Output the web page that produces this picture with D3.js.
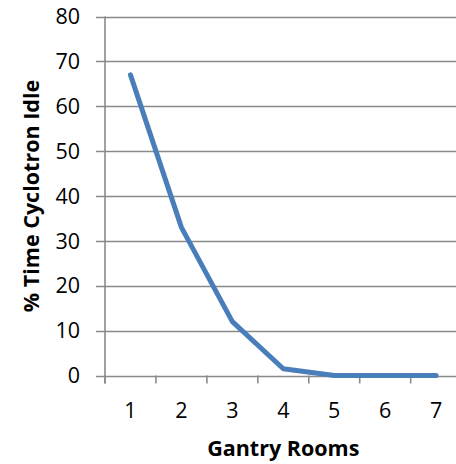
<!DOCTYPE html>
<html><head><meta charset="utf-8">
<script src="https://cdn.jsdelivr.net/npm/d3@7"></script>
<style>body{margin:0;background:#fff}svg{display:block}</style>
</head><body>
<svg id="c" width="456" height="464"></svg>
<script>
const categories = ["1","2","3","4","5","6","7"];
const idleValues = [67, 33, 12, 1.5, 0, 0, 0];
const yTicks = [0,10,20,30,40,50,60,70,80];
const xTitle = "Gantry Rooms";
const yTitle = "% Time Cyclotron Idle";

const svg = d3.select("#c");
const pLeft = 105, pRight = 461.6, pTop = 16.5, pBottom = 375.5;
const x = d3.scaleBand().domain(categories).range([pLeft, pRight]);
const y = d3.scaleLinear().domain([0, 80]).range([pBottom, pTop]);
const font = "'Open Sans', sans-serif";
const grid = "#8a8a8a";

// gridlines + y ticks
svg.append("g").selectAll("line").data(yTicks).join("line")
  .attr("x1", pLeft - 9).attr("x2", pRight)
  .attr("y1", d => Math.round(y(d)) + 0.5).attr("y2", d => Math.round(y(d)) + 0.5)
  .attr("stroke", grid).attr("stroke-width", 1.6);
// y axis line
svg.append("line").attr("x1", pLeft).attr("x2", pLeft)
  .attr("y1", pTop).attr("y2", pBottom + 8)
  .attr("stroke", grid).attr("stroke-width", 1.6);
// x ticks at band boundaries
svg.append("g").selectAll("line").data(categories).join("line")
  .attr("x1", d => x(d)).attr("x2", d => x(d))
  .attr("y1", pBottom).attr("y2", pBottom + 8)
  .attr("stroke", grid).attr("stroke-width", 1.6);

// y tick labels
svg.append("g").selectAll("text").data(yTicks).join("text")
  .attr("x", 80).attr("y", d => y(d))
  .attr("dy", "0.36em").attr("text-anchor", "end")
  .attr("font-family", font).attr("font-size", 21.5).attr("fill", "#000")
  .text(d => d);
// x tick labels
svg.append("g").selectAll("text").data(categories).join("text")
  .attr("x", d => x(d) + x.bandwidth() / 2).attr("y", 410)
  .attr("dy", "0.36em").attr("text-anchor", "middle")
  .attr("font-family", font).attr("font-size", 21.5).attr("fill", "#000")
  .text(d => d);

// line
const line = d3.line().x((d, i) => x(categories[i]) + x.bandwidth() / 2).y(d => y(d));
svg.append("path").datum(idleValues).attr("d", line)
  .attr("fill", "none").attr("stroke", "#4A7EBB").attr("stroke-width", 5)
  .attr("stroke-linejoin", "round").attr("stroke-linecap", "round");

// titles
svg.append("text").attr("x", (pLeft + pRight) / 2).attr("y", 448)
  .attr("dy", "0.36em").attr("text-anchor", "middle")
  .attr("font-family", font).attr("font-weight", "bold").attr("font-size", 21.5)
  .text(xTitle);
svg.append("text").attr("transform", `translate(31,${(pTop + pBottom) / 2}) rotate(-90)`)
  .attr("dy", "0.36em").attr("text-anchor", "middle")
  .attr("font-family", font).attr("font-weight", "bold").attr("font-size", 21.5)
  .text(yTitle);
</script>
</body></html>
